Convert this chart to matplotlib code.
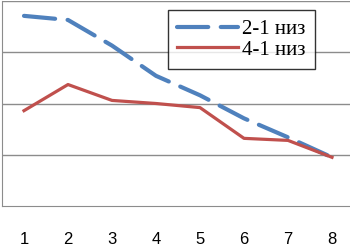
import matplotlib.pyplot as plt

categories = [1, 2, 3, 4, 5, 6, 7, 8]
series_21 = [3.71, 3.63, 3.13, 2.54, 2.16, 1.71, 1.34, 0.95]
series_41 = [1.86, 2.37, 2.06, 2.00, 1.92, 1.32, 1.28, 0.95]

fig = plt.figure(figsize=(3.5, 2.46), dpi=100)
ax = fig.add_axes([2 / 350, 40 / 246, 348 / 350, 205 / 246])

ax.plot(categories, series_21, color="#4F81BD", lw=3.0,
        dashes=(7.5, 3), dash_capstyle="round", label="2-1 низ")
ax.plot(categories, series_41, color="#C0504D", lw=2.3, label="4-1 низ")

ax.set_xlim(0.5, 0.5 + 348 / 44)
ax.set_ylim(0, 4)
ax.set_yticks([1, 2, 3, 4])
ax.yaxis.grid(True, color="#8c8c8c", lw=1)
ax.set_axisbelow(True)
ax.tick_params(left=False, labelleft=False, bottom=False, pad=15,
               labelsize=12)
ax.set_xticks(categories)
for lbl in ax.get_xticklabels():
    lbl.set_family("Liberation Sans")

for side in ["top", "right"]:
    ax.spines[side].set_visible(False)
ax.spines["left"].set_color("#8c8c8c")
ax.spines["bottom"].set_color("#8c8c8c")

leg = ax.legend(loc="upper left", bbox_to_anchor=(166 / 348, 1 - 9 / 205),
                prop={"family": "Liberation Serif", "size": 15},
                handlelength=2.9, frameon=True, fancybox=False,
                borderpad=0.45, labelspacing=0.05, handletextpad=0.2,
                borderaxespad=0)
leg.get_frame().set_edgecolor("black")
leg.get_frame().set_linewidth(1.0)

fig.savefig("out.png", dpi=100)
